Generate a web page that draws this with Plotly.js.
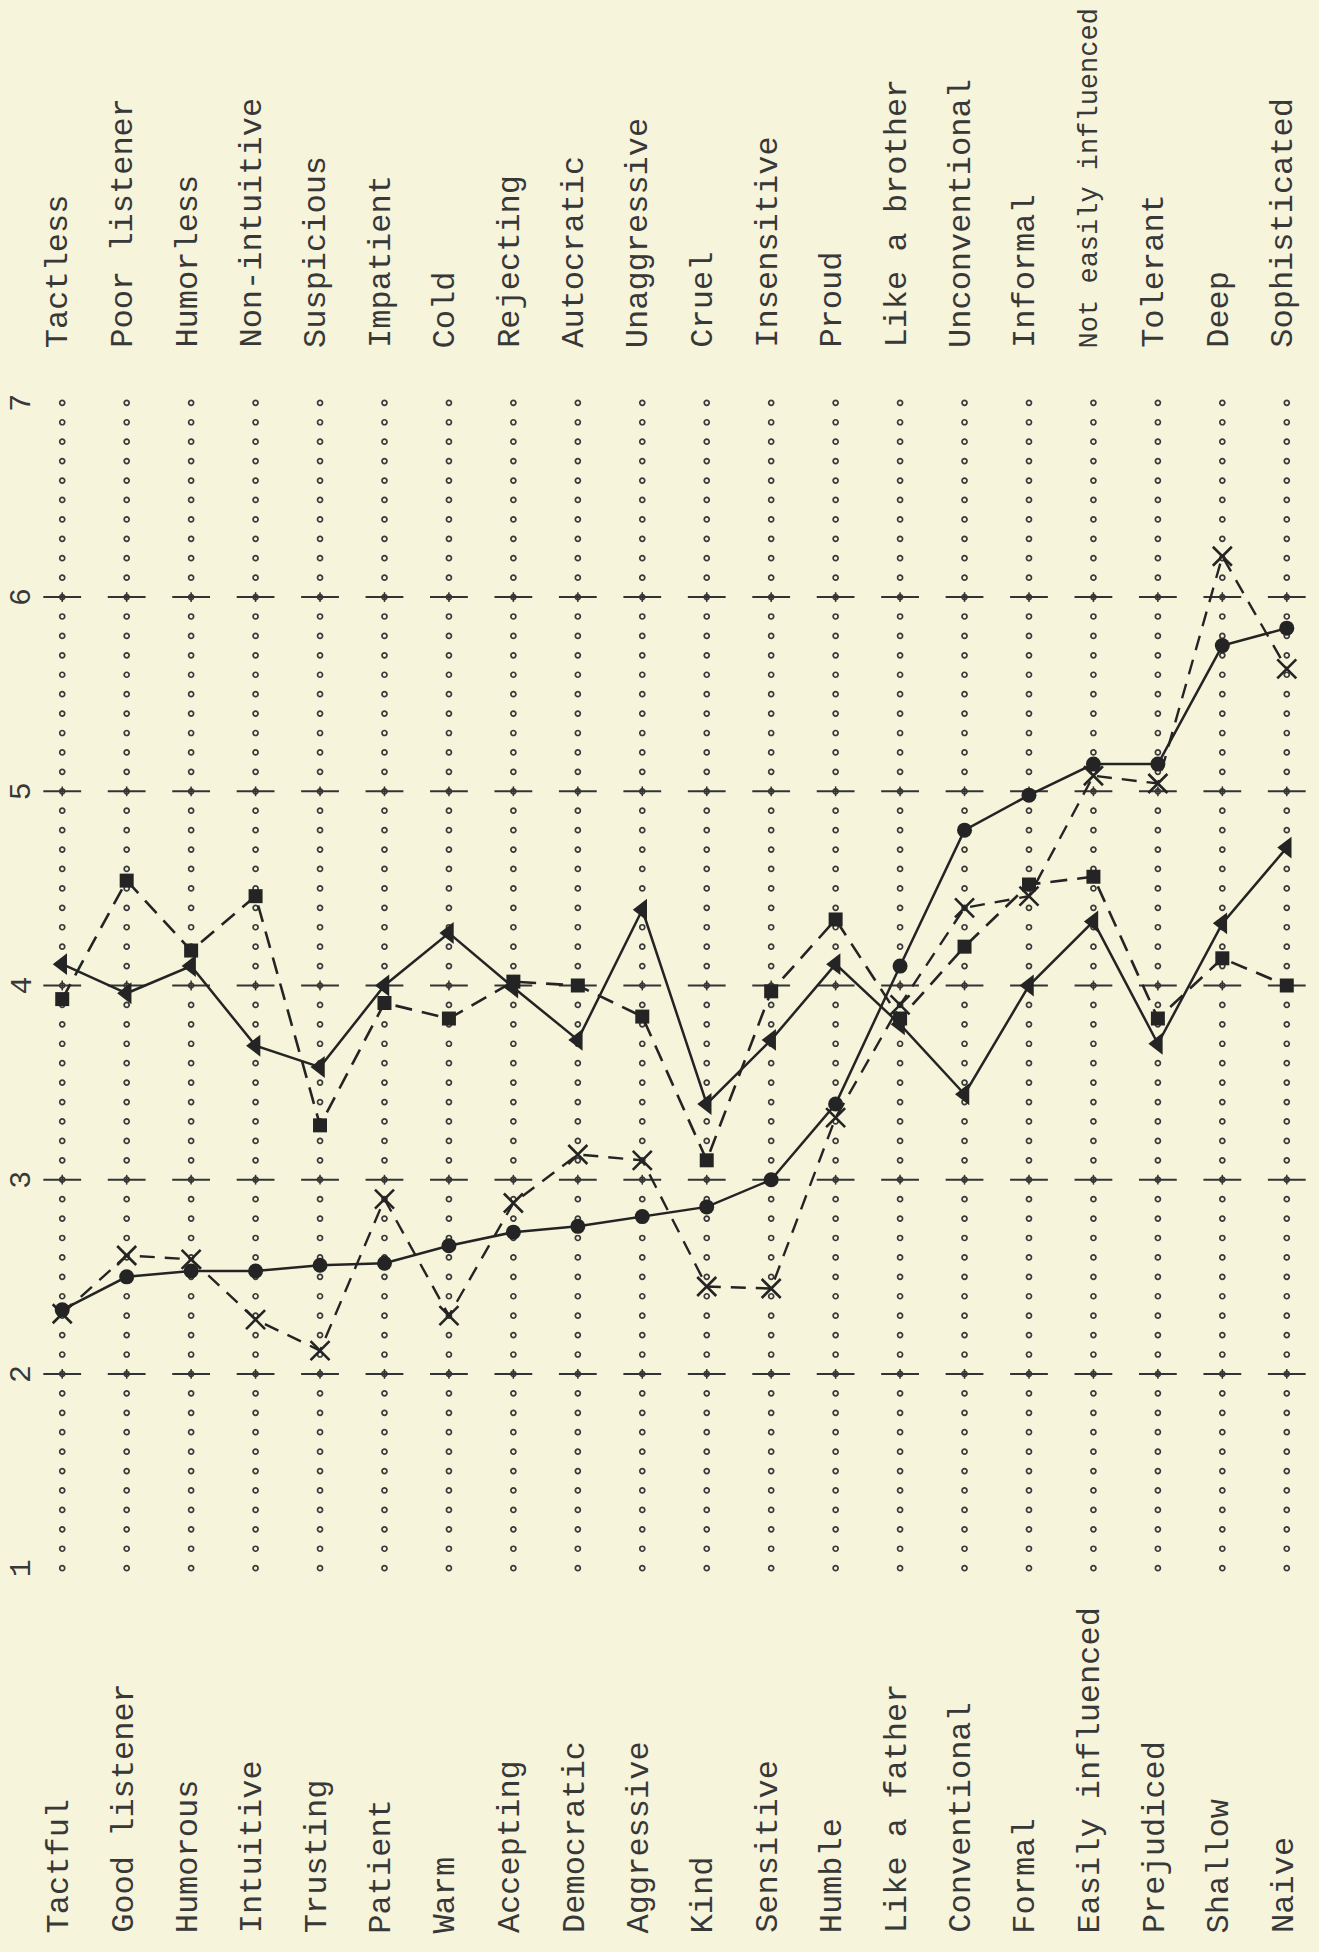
<!DOCTYPE html>
<html>
<head>
<meta charset="utf-8">
<script src="https://cdn.plot.ly/plotly-3.0.1.min.js"></script>
<style>
  html, body { margin: 0; padding: 0; background: #f7f4dc; }
  #chart { width: 1319px; height: 1952px; }
</style>
</head>
<body>
<div id="chart"></div>
<script>
// ---- data ----
const leftLabels = ["Tactful", "Good listener", "Humorous", "Intuitive", "Trusting", "Patient", "Warm",
  "Accepting", "Democratic", "Aggressive", "Kind", "Sensitive", "Humble", "Like a father",
  "Conventional", "Formal", "Easily influenced", "Prejudiced", "Shallow", "Naive"];
const rightLabels = ["Tactless", "Poor listener", "Humorless", "Non-intuitive", "Suspicious", "Impatient", "Cold",
  "Rejecting", "Autocratic", "Unaggressive", "Cruel", "Insensitive", "Proud", "Like a brother",
  "Unconventional", "Informal", "Not easily influenced", "Tolerant", "Deep", "Sophisticated"];
const scaleValues = [1, 2, 3, 4, 5, 6, 7];
const scaleText = ["1", "2", "3", "4", "5", "6", "7"];

const circleSeries   = [2.33, 2.50, 2.53, 2.53, 2.56, 2.57, 2.66, 2.73, 2.76, 2.81, 2.86, 3.00, 3.39, 4.10, 4.80, 4.98, 5.14, 5.14, 5.75, 5.84];
const triangleSeries = [4.11, 3.96, 4.10, 3.69, 3.58, 4.00, 4.27, 3.99, 3.72, 4.39, 3.39, 3.72, 4.11, 3.80, 3.44, 4.00, 4.33, 3.70, 4.32, 4.71];
const squareSeries   = [3.93, 4.54, 4.18, 4.46, 3.28, 3.91, 3.83, 4.02, 4.00, 3.84, 3.10, 3.97, 4.34, 3.83, 4.20, 4.52, 4.56, 3.83, 4.14, 4.00];
const crossSeries    = [2.31, 2.61, 2.59, 2.28, 2.12, 2.90, 2.30, 2.88, 3.13, 3.10, 2.45, 2.44, 3.32, 3.90, 4.40, 4.46, 5.08, 5.04, 6.21, 5.63];

// ---- styling ----
const ink = "#242424";
const textInk = "#383838";
const paper = "#f7f4dc";
const FONT = "Liberation Mono, Courier New, monospace";

const idx = leftLabels.map((_, i) => i);

// typed dotted rating lines (periods every tenth of a unit)
const dotX = [], dotY = [];
idx.forEach(i => {
  for (let k = scaleValues[0] * 10; k <= scaleValues[scaleValues.length - 1] * 10; k++) {
    dotX.push(i); dotY.push(k / 10);
  }
});
// integer tick marks on each line (inner integers)
const tickX = [], tickY = [];
idx.forEach(i => {
  scaleValues.slice(1, -1).forEach(v => { tickX.push(i); tickY.push(v); });
});

const traces = [
  { x: dotX, y: dotY, mode: "markers", hoverinfo: "skip", showlegend: false,
    marker: { symbol: "circle-open", size: 5, color: "#3a3a3a", line: { width: 1.7, color: "#3a3a3a" } } },
  { x: tickX, y: tickY, mode: "markers", hoverinfo: "skip", showlegend: false,
    marker: { symbol: "line-ew-open", size: 27, color: "#333333", line: { width: 2, color: "#333333" } } },
  { x: tickX, y: tickY, mode: "markers", hoverinfo: "skip", showlegend: false,
    marker: { symbol: "line-ns-open", size: 7, color: "#333333", line: { width: 1.5, color: "#333333" } } },
  { x: idx, y: circleSeries, mode: "lines+markers", name: "circles", showlegend: false,
    line: { color: ink, width: 2.5 },
    marker: { symbol: "circle", size: 15, color: ink } },
  { x: idx, y: triangleSeries, mode: "lines+markers", name: "triangles", showlegend: false,
    line: { color: ink, width: 2.5 },
    marker: { symbol: "triangle-left", size: 19, color: ink } },
  { x: idx, y: squareSeries, mode: "lines+markers", name: "squares", showlegend: false,
    line: { color: ink, width: 2.6, dash: "17px,10px" },
    marker: { symbol: "square", size: 14, color: ink } },
  { x: idx, y: crossSeries, mode: "lines+markers", name: "crosses", showlegend: false,
    line: { color: ink, width: 2.4, dash: "15px,10px" },
    marker: { symbol: "x-thin-open", size: 19, color: ink, line: { width: 2.6, color: ink } } }
];

const annotations = [];
idx.forEach(i => {
  annotations.push({
    x: i, xref: "x", y: -0.264, yref: "paper", text: leftLabels[i], showarrow: false,
    textangle: -90, xanchor: "center", yanchor: "bottom", xshift: -3,
    font: { family: FONT, size: 32, color: textInk }
  });
  annotations.push({
    x: i, xref: "x", y: 1.0113, yref: "paper", text: rightLabels[i], showarrow: false,
    textangle: -90, xanchor: "center", yanchor: "bottom", xshift: -3,
    font: { family: FONT, size: rightLabels[i].length > 18 ? 27 : 32, color: textInk }
  });
});
scaleValues.forEach((v, j) => {
  annotations.push({
    x: -0.0062, xref: "paper", y: v, yref: "y", text: scaleText[j], showarrow: false,
    textangle: -90, xanchor: "center", yanchor: "middle",
    font: { family: FONT, size: 30, color: textInk }
  });
});

const layout = {
  width: 1319, height: 1952,
  margin: { l: 30, r: 0, t: 364, b: 345 },
  paper_bgcolor: paper, plot_bgcolor: paper,
  showlegend: false,
  xaxis: { range: [-0.5, 19.5], showgrid: false, zeroline: false, showline: false,
           showticklabels: false, ticks: "" },
  yaxis: { range: [0.8, 7.2], showgrid: false, zeroline: false, showline: false,
           showticklabels: false, ticks: "" },
  annotations: annotations,
  font: { family: FONT, color: textInk }
};

Plotly.newPlot("chart", traces, layout, { displayModeBar: false, staticPlot: true });
</script>
</body>
</html>
